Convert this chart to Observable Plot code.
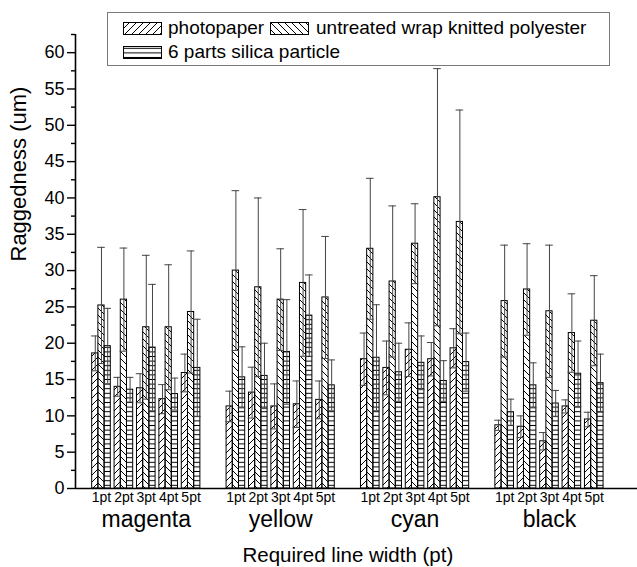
<!DOCTYPE html>
<html>
<head>
<meta charset="utf-8">
<script src="https://cdn.jsdelivr.net/npm/d3@7"></script>
<script src="https://cdn.jsdelivr.net/npm/@observablehq/plot@0.6"></script>
<style>
  html, body { margin: 0; padding: 0; background: #fff; }
  body { width: 637px; height: 567px; position: relative; overflow: hidden; font-family: "Liberation Sans", Arial, sans-serif; }
  #chart { position: absolute; left: 0; top: 0; }
  #legend { position: absolute; left: 107px; top: 12px; width: 501px; height: 52px; border: 1px solid #7a7a7a; background: #fff; }
  .sw { position: absolute; width: 39px; height: 13px; }
  .lt { position: absolute; font-size: 19px; line-height: 19px; color: #000; white-space: nowrap; }
</style>
</head>
<body>
<svg width="0" height="0" style="position:absolute">
  <defs>
    <pattern id="hatch0" patternUnits="userSpaceOnUse" width="7" height="7">
      <path d="M-1,1 L1,-1 M0,7 L7,0 M6,8 L8,6" stroke="#000" stroke-width="1"/>
    </pattern>
    <pattern id="hatch1" patternUnits="userSpaceOnUse" width="7" height="7">
      <path d="M-1,6 L1,8 M0,0 L7,7 M6,-1 L8,1" stroke="#000" stroke-width="1"/>
    </pattern>
    <pattern id="hatch2" patternUnits="userSpaceOnUse" width="10" height="4.6">
      <path d="M0,2.3 H10" stroke="#000" stroke-width="1"/>
    </pattern>
  </defs>
</svg>
<div id="chart"></div>
<div id="legend"></div>
<script>
// ---- data ----
const colorGroups = ["magenta", "yellow", "cyan", "black"];
const lineWidths = ["1pt", "2pt", "3pt", "4pt", "5pt"];
const seriesNames = ["photopaper", "untreated wrap knitted polyester", "6 parts silica particle"];

// values ordered: magenta 1..5pt, yellow 1..5pt, cyan 1..5pt, black 1..5pt
const photopaper = [18.6, 14.0, 13.8, 12.3, 15.9, 11.3, 13.2, 11.3, 11.6, 12.2, 17.8, 16.6, 19.1, 17.8, 19.3, 8.7, 8.5, 6.5, 11.3, 9.5];
const photopaperErr = [2.4, 1.3, 2.0, 2.0, 2.6, 2.1, 3.5, 3.1, 3.2, 2.6, 3.6, 3.7, 3.7, 2.3, 2.7, 0.7, 1.5, 1.2, 0.9, 1.0];
const untreated = [25.2, 26.0, 22.2, 22.2, 24.3, 30.0, 27.7, 26.0, 28.3, 26.3, 33.0, 28.5, 33.7, 40.1, 36.7, 25.8, 27.4, 24.4, 21.4, 23.1];
const untreatedErr = [8.0, 7.1, 9.9, 8.6, 8.4, 11.0, 12.3, 7.0, 10.1, 8.4, 9.7, 10.4, 5.5, 17.7, 15.4, 7.7, 6.3, 9.1, 5.4, 6.2];
const silica = [19.6, 13.6, 19.4, 13.0, 16.6, 15.3, 15.5, 18.8, 23.8, 14.2, 18.0, 16.0, 17.3, 14.8, 17.4, 10.5, 14.2, 11.7, 15.8, 14.5];
const silicaErr = [5.2, 1.7, 8.7, 2.2, 6.7, 4.2, 4.5, 7.2, 5.6, 3.5, 7.3, 4.0, 3.7, 2.8, 4.0, 1.8, 3.1, 1.8, 4.5, 4.0];

const yMajorTicks = [0, 5, 10, 15, 20, 25, 30, 35, 40, 45, 50, 55, 60];
const yMinorTicks = [2.5, 7.5, 12.5, 17.5, 22.5, 27.5, 32.5, 37.5, 42.5, 47.5, 52.5, 57.5, 62.5];
const yLabel = "Raggedness (um)";
const xLabel = "Required line width (pt)";

// ---- build table ----
const seriesValues = [photopaper, untreated, silica];
const seriesErrs = [photopaperErr, untreatedErr, silicaErr];
const slotsPerGroup = lineWidths.length + 1; // one empty slot between groups
const barW = 0.277;
const whisker = 0.17;
const rows = [];
colorGroups.forEach((g, gi) => {
  lineWidths.forEach((w, wi) => {
    const k = gi * lineWidths.length + wi;
    const center = gi * slotsPerGroup + wi;
    seriesNames.forEach((s, si) => {
      const x1 = center + (si - 1.5) * barW;
      rows.push({group: g, width: w, series: si, value: seriesValues[si][k], err: seriesErrs[si][k],
                 x1, x2: x1 + barW, xc: x1 + barW / 2});
    });
  });
});
const triplets = [];
colorGroups.forEach((g, gi) => lineWidths.forEach((w, wi) => triplets.push({label: w, x: gi * slotsPerGroup + wi})));
const groupLabels = colorGroups.map((g, gi) => ({label: g, x: gi * slotsPerGroup + (lineWidths.length - 1) / 2}));
const xMid = (triplets[0].x + triplets[triplets.length - 1].x) / 2;
const xDomain = [-1.16, 23.93];
const yDomain = [0, 62.5];

const font = "Liberation Sans, Arial, sans-serif";
const marks = [];
seriesNames.forEach((s, si) => {
  marks.push(Plot.rectY(rows.filter(d => d.series === si), {
    x1: "x1", x2: "x2", y1: 0, y2: "value", fill: `url(#hatch${si})`, stroke: "#000", strokeWidth: 1
  }));
});
marks.push(
  Plot.ruleX(rows, {x: "xc", y1: d => d.value - d.err, y2: d => d.value + d.err, stroke: "#444", strokeWidth: 1}),
  Plot.ruleY(rows, {y: d => d.value + d.err, x1: d => d.xc - whisker, x2: d => d.xc + whisker, stroke: "#444", strokeWidth: 1}),
  Plot.ruleY(rows, {y: d => d.value - d.err, x1: d => d.xc - whisker, x2: d => d.xc + whisker, stroke: "#444", strokeWidth: 1}),
  Plot.ruleY([0], {stroke: "#000", strokeWidth: 1.6}),
  Plot.ruleX([xDomain[0]], {y1: yDomain[0], y2: yDomain[1], stroke: "#000", strokeWidth: 1.6}),
  Plot.axisY({ticks: yMajorTicks, tickSize: 8, tickPadding: 3, fontSize: 18, label: null, strokeWidth: 1.4, tickFormat: d => String(d)}),
  Plot.axisY({ticks: yMinorTicks, tickSize: 4, text: null, label: null, strokeWidth: 1.4}),
  Plot.text(triplets, {x: "x", text: "label", frameAnchor: "bottom", lineAnchor: "top", dy: 4, fontSize: 14}),
  Plot.text(groupLabels, {x: "x", text: "label", frameAnchor: "bottom", lineAnchor: "top", dy: 22, fontSize: 23}),
  Plot.text([xLabel], {x: xMid, text: d => d, frameAnchor: "bottom", lineAnchor: "bottom", dy: 73, fontSize: 20.5}),
  Plot.text([yLabel], {text: d => d, frameAnchor: "left", rotate: -90, dx: -57, fontSize: 22})
);

const chart = Plot.plot({
  width: 637,
  height: 567,
  marginLeft: 75,
  marginRight: 0,
  marginTop: 34,
  marginBottom: 79,
  style: {fontFamily: font, color: "#000", background: "#fff", overflow: "visible"},
  x: {type: "linear", domain: xDomain, axis: null},
  y: {domain: yDomain, axis: null},
  marks
});
document.getElementById("chart").appendChild(chart);

// ---- legend ----
const legend = document.getElementById("legend");
const legendItems = [
  {si: 0, sx: 15, tx: 60, top: 8},
  {si: 1, sx: 162, tx: 208, top: 8},
  {si: 2, sx: 15, tx: 60, top: 32}
];
legendItems.forEach(it => {
  const sw = document.createElement("div");
  sw.className = "sw";
  sw.style.left = it.sx + "px";
  sw.style.top = it.top + "px";
  sw.innerHTML = `<svg width="39" height="13"><rect x="0.5" y="0.5" width="38" height="12" fill="url(#hatch${it.si})" stroke="#000" stroke-width="1"/></svg>`;
  legend.appendChild(sw);
  const t = document.createElement("div");
  t.className = "lt";
  t.style.left = it.tx + "px";
  t.style.top = (it.top - 3) + "px";
  t.textContent = seriesNames[it.si];
  legend.appendChild(t);
});
</script>
</body>
</html>
